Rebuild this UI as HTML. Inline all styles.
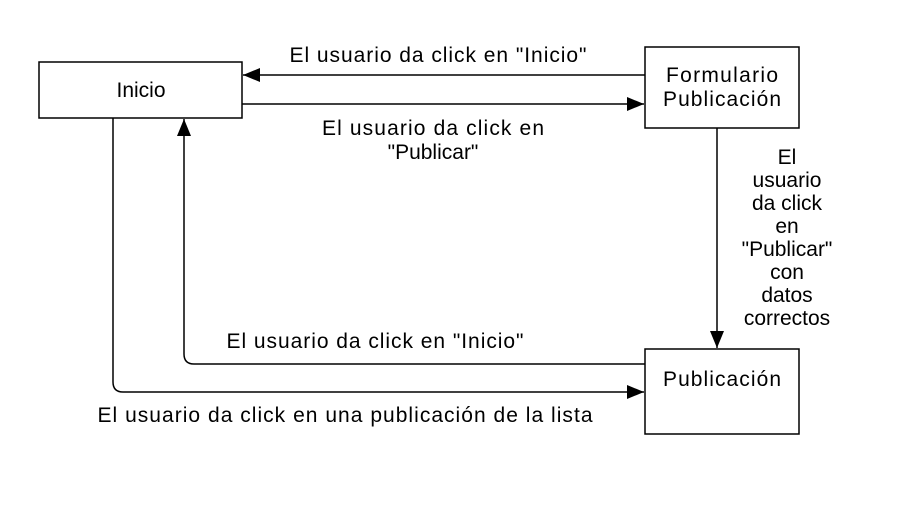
<!DOCTYPE html>
<html><head><meta charset="utf-8"><style>
html,body{margin:0;padding:0;background:#fff;}
svg text{font-family:"Liberation Sans",Arial,sans-serif;font-size:21px;fill:#000;}
</style></head><body>
<svg width="899" height="514" viewBox="0 0 899 514" xmlns="http://www.w3.org/2000/svg">
<defs>
<marker id="b" markerWidth="18" markerHeight="16" refX="17" refY="7" orient="auto" markerUnits="userSpaceOnUse">
<path d="M0,0 L17,7 L0,14 Z" fill="#000"/>
</marker>
</defs>
<g fill="#fff" stroke="#000" stroke-width="1.5">
<rect x="39" y="62" width="203" height="56"/>
<rect x="645" y="47" width="154" height="81"/>
<rect x="645" y="349" width="154" height="85"/>
</g>
<g fill="none" stroke="#000" stroke-width="1.5">
<path d="M645,75 L243,75" marker-end="url(#b)"/>
<path d="M242,104 L644,104" marker-end="url(#b)"/>
<path d="M717,128 L717,348" marker-end="url(#b)"/>
<path d="M645,364 L194,364 Q184,364 184,354 L184,119" marker-end="url(#b)"/>
<path d="M113,118 L113,382 Q113,392 123,392 L644,392" marker-end="url(#b)"/>
</g>
<text x="141" y="97" text-anchor="middle">Inicio</text>
<text x="722" y="82" text-anchor="middle" textLength="112">Formulario</text>
<text x="722" y="106" text-anchor="middle" textLength="118">Publicación</text>
<text x="722" y="386" text-anchor="middle" textLength="118">Publicación</text>
<text x="438" y="62" text-anchor="middle" textLength="297">El usuario da click en "Inicio"</text>
<text x="433" y="135" text-anchor="middle" textLength="222">El usuario da click en</text>
<text x="433" y="159" text-anchor="middle">"Publicar"</text>
<g text-anchor="middle">
<text x="787" y="164">El</text>
<text x="787" y="187">usuario</text>
<text x="787" y="210">da click</text>
<text x="787" y="233">en</text>
<text x="787" y="256">"Publicar"</text>
<text x="787" y="279">con</text>
<text x="787" y="302">datos</text>
<text x="787" y="325">correctos</text>
</g>
<text x="375" y="348" text-anchor="middle" textLength="297">El usuario da click en "Inicio"</text>
<text x="345" y="422" text-anchor="middle" textLength="495">El usuario da click en una publicación de la lista</text>
</svg>
</body></html>
